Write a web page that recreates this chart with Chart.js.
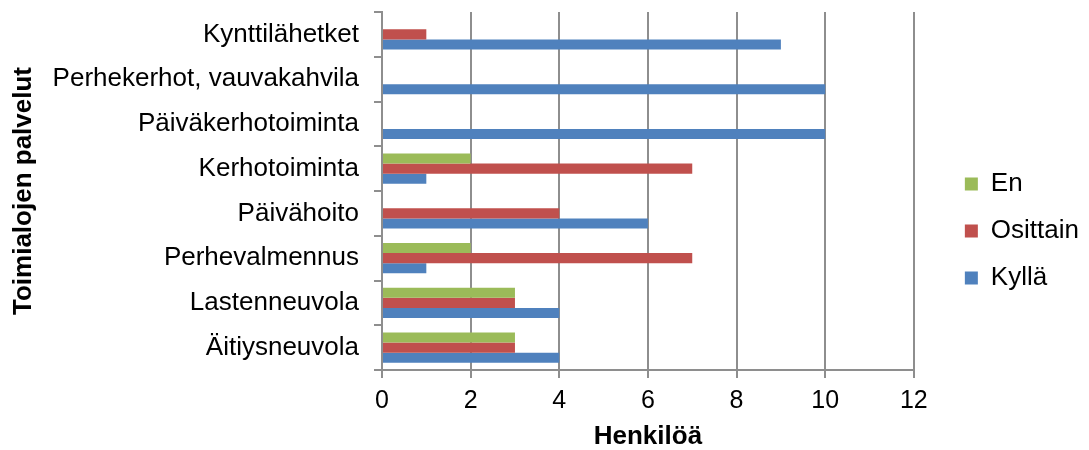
<!DOCTYPE html>
<html>
<head>
<meta charset="utf-8">
<script src="https://cdn.jsdelivr.net/npm/chart.js@4/dist/chart.umd.min.js"></script>
<style>
  html, body { margin: 0; padding: 0; background: #fff; }
  #wrap { width: 1089px; height: 450px; }
</style>
</head>
<body>
<div id="wrap"><canvas id="barChart"></canvas></div>
<script>
// categories top to bottom
const categories = ['Kynttilähetket', 'Perhekerhot, vauvakahvila', 'Päiväkerhotoiminta', 'Kerhotoiminta',
  'Päivähoito', 'Perhevalmennus', 'Lastenneuvola', 'Äitiysneuvola'];
const enValues = [0, 0, 0, 2, 0, 2, 3, 3];
const osittainValues = [1, 0, 0, 7, 4, 7, 3, 3];
const kyllaValues = [9, 10, 10, 1, 6, 1, 4, 4];
const xTicks = [0, 2, 4, 6, 8, 10, 12];

const fontName = '"Liberation Sans", Arial, sans-serif';
const gridGray = '#8e8e8e';

var ctx = document.getElementById('barChart').getContext('2d');

const mkSet = (label, vals, color) => ({
  label: label,
  data: vals,
  backgroundColor: color,
  borderWidth: 0,
  categoryPercentage: 0.675,
  barPercentage: 1
});

new Chart(ctx, {
  type: 'bar',
  data: {
    labels: categories,
    datasets: [
      mkSet('En', enValues, '#9bbb59'),
      mkSet('Osittain', osittainValues, '#c0504d'),
      mkSet('Kyllä', kyllaValues, '#4f81bd')
    ]
  },
  options: {
    indexAxis: 'y',
    responsive: true,
    maintainAspectRatio: false,
    animation: false,
    layout: { padding: { top: 12, right: 0, left: 8, bottom: 0 } },
    plugins: {
      tooltip: { enabled: false },
      legend: {
        position: 'right',
        align: 'center',
        labels: {
          boxWidth: 13,
          boxHeight: 13,
          padding: 21,
          color: '#000',
          font: { family: fontName, size: 26 }
        }
      }
    },
    scales: {
      x: {
        min: 0,
        max: 12,
        afterBuildTicks: (axis) => { axis.ticks = xTicks.map(v => ({ value: v })); },
        grid: { color: gridGray, lineWidth: 2, tickLength: 8 },
        border: { color: gridGray, width: 2 },
        ticks: { color: '#000', padding: 8, font: { family: fontName, size: 25 } },
        title: {
          display: true,
          text: 'Henkilöä',
          color: '#000',
          padding: { top: 0, bottom: 0 },
          font: { family: fontName, size: 26, weight: 'bold', lineHeight: 1 }
        }
      },
      y: {
        grid: { offset: true, drawOnChartArea: false, color: gridGray, lineWidth: 2, tickLength: 8 },
        border: { color: gridGray, width: 2 },
        ticks: { color: '#000', padding: 15, font: { family: fontName, size: 26 } },
        title: {
          display: true,
          text: 'Toimialojen palvelut',
          color: '#000',
          padding: { top: 0, bottom: 11 },
          font: { family: fontName, size: 26, weight: 'bold' }
        },
        // long labels: keep the full width instead of the default cap,
        // and no extra room above/below for the label halves
        afterFit: (scale) => {
          scale.width = 374;
          scale.paddingTop = 0;
          scale.paddingBottom = 0;
        }
      },
      // empty spacer between the plot and the legend
      gap: {
        axis: 'y',
        position: 'right',
        grid: { display: false },
        border: { display: false },
        ticks: { display: false },
        afterFit: (scale) => { scale.width = 30; }
      }
    }
  }
});
</script>
</body>
</html>
